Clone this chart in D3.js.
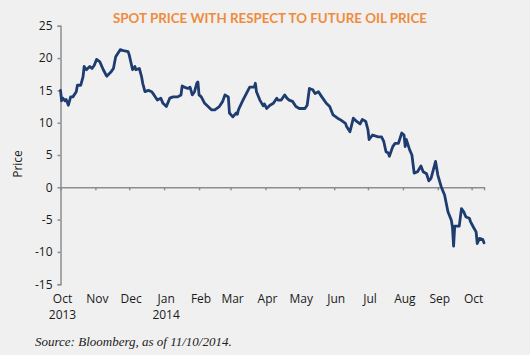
<!DOCTYPE html>
<html>
<head>
<meta charset="utf-8">
<script src="https://cdn.jsdelivr.net/npm/d3@7"></script>
<style>
  html, body { margin: 0; padding: 0; background: #f0f0f0; }
  svg { display: block; }
</style>
</head>
<body>
<svg id="chart" width="530" height="355"></svg>
<script>
// ---- Data ----
const title = "SPOT PRICE WITH RESPECT TO FUTURE OIL PRICE";
const yLabel = "Price";
const source = "Source: Bloomberg, as of 11/10/2014.";

const dates = [
  "2013-10-01","2013-10-02","2013-10-03","2013-10-05","2013-10-06","2013-10-08","2013-10-10","2013-10-12",
  "2013-10-15","2013-10-16","2013-10-19","2013-10-21","2013-10-22","2013-10-24","2013-10-27","2013-10-29",
  "2013-10-31","2013-11-02","2013-11-05","2013-11-08","2013-11-11","2013-11-15","2013-11-17","2013-11-19",
  "2013-11-23","2013-11-27","2013-11-30","2013-12-01","2013-12-04","2013-12-06","2013-12-07","2013-12-10",
  "2013-12-12","2013-12-13","2013-12-15","2013-12-18","2013-12-21","2013-12-23","2013-12-26","2013-12-29",
  "2013-12-31","2014-01-03","2014-01-06","2014-01-09","2014-01-13","2014-01-16","2014-01-17","2014-01-19",
  "2014-01-22","2014-01-24","2014-01-26","2014-01-28","2014-01-30","2014-01-31","2014-02-01","2014-02-03",
  "2014-02-06","2014-02-09","2014-02-12","2014-02-15","2014-02-19","2014-02-22","2014-02-24","2014-02-27",
  "2014-02-28","2014-03-03","2014-03-06","2014-03-07","2014-03-08","2014-03-12","2014-03-15","2014-03-18",
  "2014-03-22","2014-03-23","2014-03-24","2014-03-27","2014-03-30","2014-03-31","2014-04-02","2014-04-05",
  "2014-04-08","2014-04-11","2014-04-12","2014-04-15","2014-04-18","2014-04-20","2014-04-22","2014-04-25",
  "2014-04-28","2014-05-01","2014-05-06","2014-05-08","2014-05-10","2014-05-13","2014-05-15","2014-05-18",
  "2014-05-21","2014-05-25","2014-05-28","2014-05-31","2014-06-04","2014-06-07","2014-06-11","2014-06-12",
  "2014-06-15","2014-06-18","2014-06-21","2014-06-24","2014-06-26","2014-06-29","2014-07-01","2014-07-02",
  "2014-07-05","2014-07-10","2014-07-13","2014-07-15","2014-07-17","2014-07-19","2014-07-20","2014-07-23",
  "2014-07-25","2014-07-28","2014-07-31","2014-08-02","2014-08-03","2014-08-04","2014-08-07","2014-08-09",
  "2014-08-11","2014-08-14","2014-08-17","2014-08-19","2014-08-22","2014-08-24","2014-08-26","2014-08-28",
  "2014-08-30","2014-09-01","2014-09-04","2014-09-07","2014-09-10","2014-09-13","2014-09-14","2014-09-15",
  "2014-09-16","2014-09-20","2014-09-22","2014-09-24","2014-09-26","2014-09-29","2014-09-30","2014-10-03",
  "2014-10-05","2014-10-06","2014-10-08","2014-10-11","2014-10-12"
];
const prices = [
  15.0, 13.4, 13.8, 13.4, 13.6, 12.7, 14.0, 14.0,
  14.8, 15.8, 15.8, 17.1, 18.7, 18.2, 18.7, 18.4,
  18.9, 19.8, 19.4, 18.2, 17.2, 17.9, 18.4, 20.2,
  21.3, 21.1, 21.0, 20.5, 18.2, 18.7, 18.2, 18.4,
  17.1, 16.1, 14.8, 15.0, 14.8, 14.3, 13.5, 13.8,
  13.0, 12.5, 13.8, 14.0, 14.0, 14.3, 15.7, 15.5,
  15.3, 15.5, 14.3, 14.8, 16.1, 16.3, 14.3, 14.0,
  13.0, 12.5, 12.0, 12.0, 12.5, 13.3, 14.3, 14.0,
  11.5, 10.9, 11.5, 11.3, 12.0, 13.5, 14.5, 15.5,
  15.5, 16.1, 14.8, 13.5, 12.6, 12.9, 12.2, 12.7,
  13.0, 13.8, 13.5, 13.5, 14.3, 13.8, 13.5, 13.3,
  12.5, 12.2, 12.2, 12.7, 15.3, 15.1, 14.5, 14.8,
  14.0, 13.0, 12.5, 11.2, 10.7, 10.4, 9.9, 9.4,
  8.6, 10.7, 10.2, 9.8, 10.5, 10.2, 8.9, 7.4,
  8.1, 7.8, 7.8, 7.1, 5.5, 5.3, 4.8, 6.3,
  6.8, 6.8, 8.4, 8.1, 6.3, 7.4, 5.8, 5.0,
  2.2, 2.4, 3.3, 2.4, 2.1, 1.0, 1.4, 2.7,
  4.0, 1.9, 0.1, -1.2, -3.8, -5.1, -6.2, -9.1,
  -6.0, -6.0, -3.3, -3.8, -4.6, -4.8, -5.3, -6.3,
  -6.9, -8.7, -7.9, -8.1, -8.6
];
const yTicks = [25, 20, 15, 10, 5, 0, -5, -10, -15];
const monthTicks = ["2013-10-01","2013-11-01","2013-12-01","2014-01-01","2014-02-01","2014-03-01",
  "2014-04-01","2014-05-01","2014-06-01","2014-07-01","2014-08-01","2014-09-01","2014-10-01"];
const monthLabels = ["Oct","Nov","Dec","Jan","Feb","Mar","Apr","May","Jun","Jul","Aug","Sep","Oct"];
const yearLabels = ["2013","","","2014","","","","","","","","",""];
const xStart = "2013-10-01", xEnd = "2014-10-12";

// ---- Drawing ----
const parse = d3.utcParse("%Y-%m-%d");
const data = dates.map((d, i) => ({ date: parse(d), value: prices[i] }));

const svg = d3.select("#chart");
const mLeft = 60.5, mRight = 484, mTop = 25.8, mBottom = 284.2;

const x = d3.scaleUtc().domain([parse(xStart), parse(xEnd)]).range([mLeft, mRight]);
const y = d3.scaleLinear().domain([-15, 25]).range([mBottom, mTop]);

const axisColor = "#8d8d8d";
const textColor = "#1a1a1a";
const font = "'Open Sans', 'Liberation Sans', sans-serif";

svg.append("rect").attr("width", 530).attr("height", 355).attr("fill", "#f0f0f0");

// Title
svg.append("text")
  .attr("x", 270).attr("y", 23)
  .attr("text-anchor", "middle")
  .attr("font-family", "Lato, 'Open Sans', sans-serif")
  .attr("font-weight", 700)
  .attr("font-size", 14)
  .attr("fill", "#ef8b3c")
  .attr("textLength", 314)
  .attr("lengthAdjust", "spacingAndGlyphs")
  .text(title);

// Y axis
const yAxis = d3.axisLeft(y).tickValues(yTicks).tickSize(3).tickPadding(5).tickFormat(d3.format("d"));
const gy = svg.append("g").attr("transform", `translate(${mLeft},0)`).call(yAxis);
gy.select(".domain").attr("stroke", axisColor).attr("stroke-width", 1.5);
gy.selectAll(".tick line").attr("stroke", axisColor).attr("stroke-width", 1.5);
gy.selectAll(".tick text")
  .attr("font-family", font).attr("font-size", 12).attr("fill", textColor)
  .text(d => d < 0 ? "-" + Math.abs(d) : d);

// X axis at zero
const xAxis = d3.axisBottom(x).tickValues(monthTicks.map(parse)).tickSize(3).tickFormat("");
const gx = svg.append("g").attr("transform", `translate(0,${y(0)})`).call(xAxis);
gx.select(".domain").attr("stroke", axisColor).attr("stroke-width", 1.5);
gx.selectAll(".tick line").attr("stroke", axisColor).attr("stroke-width", 1.5);

// Month labels at bottom
const lbl = svg.append("g")
  .attr("font-family", font).attr("font-size", 12).attr("fill", textColor)
  .attr("text-anchor", "middle");
monthTicks.forEach((m, i) => {
  const xp = x(parse(m)) + 2;
  lbl.append("text").attr("x", xp).attr("y", 303).text(monthLabels[i]);
  if (yearLabels[i]) lbl.append("text").attr("x", xp).attr("y", 319).text(yearLabels[i]);
});

// Y label
svg.append("text")
  .attr("transform", `translate(22,164) rotate(-90)`)
  .attr("text-anchor", "middle")
  .attr("font-family", font).attr("font-size", 12).attr("fill", textColor)
  .text(yLabel);

// Line
const line = d3.line().x(d => x(d.date)).y(d => y(d.value)).curve(d3.curveLinear);
svg.append("path")
  .datum(data)
  .attr("d", line)
  .attr("fill", "none")
  .attr("stroke", "#1e3c70")
  .attr("stroke-width", 2.8)
  .attr("stroke-linejoin", "round")
  .attr("stroke-linecap", "round");

// Source
svg.append("text")
  .attr("x", 35).attr("y", 346)
  .attr("font-family", "'Liberation Serif', 'DejaVu Serif', serif")
  .attr("font-style", "italic")
  .attr("font-size", 13)
  .attr("fill", "#222")
  .text(source);
</script>
</body>
</html>
